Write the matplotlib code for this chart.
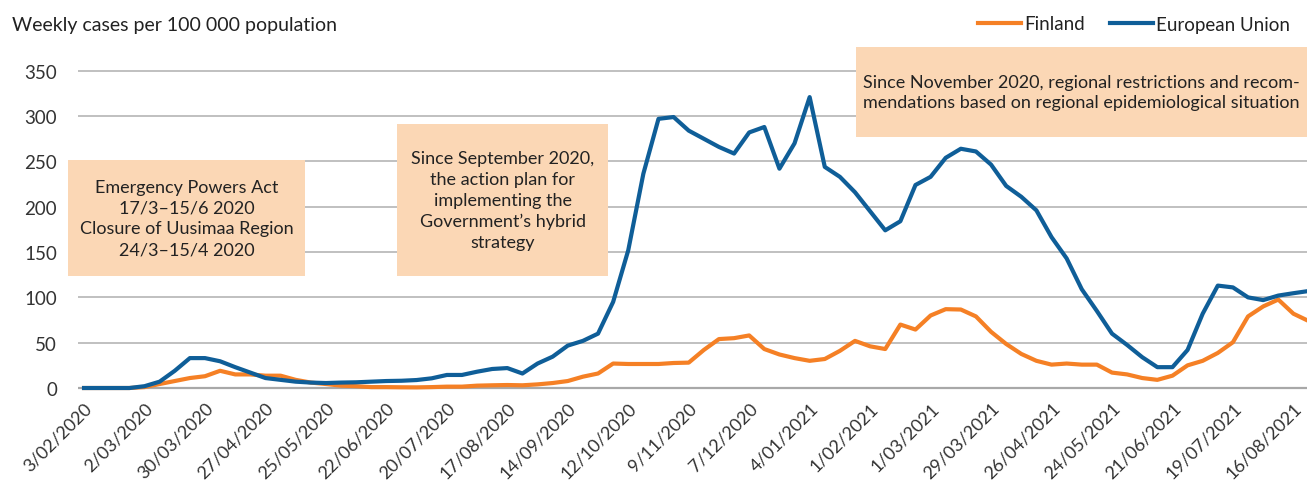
import pandas as pd
import matplotlib.pyplot as plt
from matplotlib.patches import Rectangle

plt.rcParams['font.family'] = ['Lato', 'DejaVu Sans']

# weekly data, Monday of each week starting 3/02/2020
weeks = pd.date_range('2020-02-03', periods=82, freq='7D')

finland = [0, 0, 0, 0, 1, 4.4, 7.7, 11, 13, 19,
           15, 15, 13.6, 13.6, 9, 6, 4.4, 2.6, 2, 1,
           1, 0.8, 0.7, 1, 1.5, 1.5, 2.6, 3, 3.3, 3,
           4, 5.5, 7.7, 12.5, 16, 27, 26.5, 26.5, 26.5, 27.6,
           28, 42, 54, 55, 58, 43, 37, 33, 30, 32,
           41, 52, 46, 43, 70, 64.5, 80, 87, 86.6, 79,
           62, 48.6, 37.6, 30, 25.8, 27, 25.8, 25.8, 17, 15,
           11, 9, 13.6, 25, 30, 38.7, 50.5, 79, 90, 97.6,
           82, 74]

eu = [0, 0, 0, 0, 2, 7, 19, 33, 33, 29.5,
      23, 17, 11, 9, 7, 6, 5.5, 6, 6.3, 7,
      7.7, 8, 8.8, 10.7, 14.4, 14.4, 18, 21, 22, 16,
      27, 34.6, 46.8, 52, 60, 95, 152, 236.5, 297, 299,
      284, 275, 266, 258.7, 282, 288, 242, 270, 321, 244,
      233, 216, 195, 174, 184, 224, 233, 254, 264, 261,
      246.5, 223, 211, 196, 166.5, 143, 109, 85, 60, 47.5,
      34, 23, 23, 42, 82, 113, 111, 100, 97, 102,
      104.6, 107]

tick_dates = weeks[::4][:21]
tick_labels = [f'{d.day}/{d.month:02d}/{d.year}' for d in tick_dates]

notes = [
    'Emergency Powers Act\n17/3\u201315/6 2020\nClosure of Uusimaa Region\n24/3\u201315/4 2020',
    'Since September 2020,\nthe action plan for\nimplementing the\nGovernment\u2019s hybrid\nstrategy',
    'Since November 2020, regional restrictions and recom-\nmendations based on regional epidemiological situation',
]

W, H = 1307, 481
fig = plt.figure(figsize=(W / 100, H / 100), dpi=100)
ax = fig.add_axes([78 / W, 1 - 392 / H, (W - 78) / W, (392 - 70) / H])

ax.plot(weeks, finland, color='#f58025', lw=3, label='Finland', solid_joinstyle='round')
ax.plot(weeks, eu, color='#0f5e98', lw=3, label='European Union', solid_joinstyle='round')

ax.set_xlim(weeks[0] - pd.Timedelta(days=2.8), weeks[0] + pd.Timedelta(days=7 * 80.9))
ax.set_ylim(-3.3, 352)
ax.set_yticks(range(0, 351, 50))
ax.set_xticks(tick_dates)
ax.set_xticklabels(tick_labels, rotation=45, ha='right', rotation_mode='anchor')
ax.tick_params(length=0, labelsize=13, colors='#333333')
ax.tick_params(axis='x', pad=6)
ax.tick_params(axis='y', labelsize=13.5, pad=15)
ax.grid(axis='y', color='#c0c0c0', lw=1.4)
ax.set_axisbelow(True)
for s in ax.spines.values():
    s.set_visible(False)
ax.axhline(0, color='#a8a8a8', lw=1.6, zorder=1)

# annotation boxes (pixel positions of the reference)
boxes = [(68, 161, 305, 277), (397, 125, 608, 277), (856, 48, 1307, 138)]
for (x0, y0, x1, y1), txt in zip(boxes, notes):
    fig.add_artist(Rectangle((x0 / W, 1 - y1 / H), (x1 - x0) / W, (y1 - y0) / H,
                             transform=fig.transFigure, facecolor='#fbd7b5',
                             edgecolor='none', zorder=3))
    fig.text((x0 + x1) / 2 / W, 1 - (y0 + y1) / 2 / H, txt, ha='center', va='center',
             fontsize=13, color='#222222', linespacing=1.38, zorder=4)

fig.text(12 / W, 1 - 25 / H, 'Weekly cases per 100 000 population', fontsize=14,
         color='#222222', va='center')
fig.legend(loc='center right', bbox_to_anchor=(1.0, 1 - 25 / H), ncol=2, frameon=False,
           fontsize=13.5, handlelength=2.3, handletextpad=0.15, columnspacing=1.35,
           labelcolor='#222222')

fig.savefig('out.png', dpi=100)
